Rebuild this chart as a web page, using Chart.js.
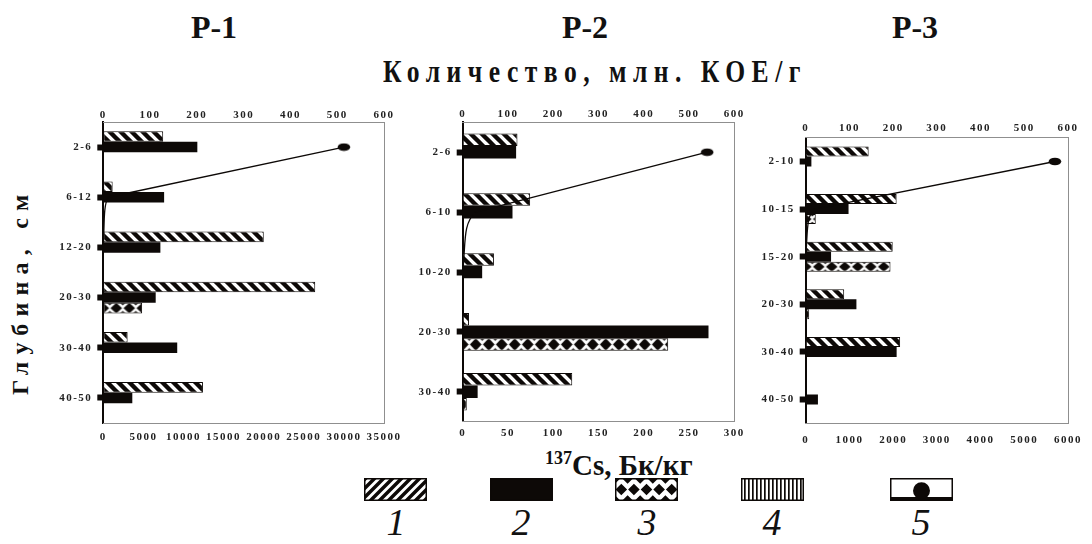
<!DOCTYPE html>
<html><head><meta charset="utf-8">
<script src="https://cdn.jsdelivr.net/npm/chart.js@4.4.1/dist/chart.umd.min.js"></script>
<style>
html,body{margin:0;padding:0;background:#fff;}
body{width:1092px;height:544px;position:relative;overflow:hidden;font-family:"Liberation Serif","Times New Roman",serif;color:#111;}
.abs{position:absolute;white-space:nowrap;line-height:1;}
.title{font-weight:bold;font-size:32px;transform:translateX(-50%);}
canvas.ch{position:absolute;}
.lg{position:absolute;}
.lgl{position:absolute;font-style:italic;font-size:38px;line-height:1;transform:translateX(-50%);}
</style></head><body>
<div class="abs title" style="left:214px;top:11px;">Р-1</div>
<div class="abs title" style="left:585px;top:11px;">Р-2</div>
<div class="abs title" style="left:915px;top:11px;">Р-3</div>
<div class="abs" id="xTitle" style="left:383px;top:55px;font-weight:bold;font-size:32px;transform-origin:0 0;">Количество, млн. КОЕ/г</div>
<div class="abs" id="yTitle" style="left:8px;top:395px;font-weight:bold;font-size:24px;transform-origin:0 0;">Глубина, см</div>
<div class="abs" id="csTitle" style="left:545px;top:451px;font-weight:bold;font-size:29px;"><span style="font-size:18px;position:relative;top:-11px;line-height:0;">137</span>Cs, Бк/кг</div>

<canvas class="ch" id="c1" width="370" height="365" style="left:40px;top:95px;"></canvas>
<canvas class="ch" id="c2" width="345" height="360" style="left:410px;top:95px;"></canvas>
<canvas class="ch" id="c3" width="332" height="350" style="left:760px;top:105px;"></canvas>

<canvas class="lg" id="lg1" width="63" height="23" style="left:364px;top:478px;"></canvas>
<canvas class="lg" id="lg2" width="63" height="23" style="left:490px;top:478px;"></canvas>
<canvas class="lg" id="lg3" width="63" height="23" style="left:615px;top:478px;"></canvas>
<canvas class="lg" id="lg4" width="63" height="23" style="left:741px;top:478px;"></canvas>
<canvas class="lg" id="lg5" width="63" height="23" style="left:890px;top:478px;"></canvas>
<div class="lgl" style="left:396px;top:503px;">1</div>
<div class="lgl" style="left:521px;top:503px;">2</div>
<div class="lgl" style="left:647px;top:503px;">3</div>
<div class="lgl" style="left:772px;top:503px;">4</div>
<div class="lgl" style="left:921px;top:503px;">5</div>

<script>
// ---------- DATA ----------
// Top axis: количество, млн. КОЕ/г (series 1-4); bottom axis: 137Cs, Бк/кг (series 5)
const countMax = 600;
const countStep = 100;

// Р-1
const p1Depth = ['2-6', '6-12', '12-20', '20-30', '30-40', '40-50'];
const p1S1 = [128, 20, 343, 453, 52, 213];
const p1S2 = [201, 130, 122, 112, 158, 62];
const p1S3 = [0, 0, 0, 83, 0, 0];
const p1S4 = [0, 0, 0, 0, 0, 0];
const p1Cs = [30000, 600, 0, 0, 0, 0];
const p1CsMax = 35000, p1CsStep = 5000;

// Р-2
const p2Depth = ['2-6', '6-10', '10-20', '20-30', '30-40'];
const p2S1 = [121, 149, 69, 14, 242];
const p2S2 = [118, 110, 43, 543, 33];
const p2S3 = [0, 0, 0, 454, 9];
const p2S4 = [0, 0, 0, 0, 0];
const p2Cs = [270, 14, 0, 0, 0];
const p2CsMax = 300, p2CsStep = 50;

// Р-3
const p3Depth = ['2-10', '10-15', '15-20', '20-30', '30-40', '40-50'];
const p3S1 = [144, 208, 199, 88, 216, 0];
const p3S2 = [13, 98, 58, 116, 208, 28];
const p3S3 = [0, 23, 194, 8, 0, 3];
const p3S4 = [0, 0, 0, 0, 0, 0];
const p3Cs = [5700, 200, 0, 0, 0, 0];
const p3CsMax = 6000, p3CsStep = 1000;

// ---------- STYLE HELPERS ----------
const INK = '#0d0907';
const FAM = '"Liberation Serif","Times New Roman",serif';
const tickFont = {family: FAM, size: 11, weight: 'bold'};
const LS = '1.5px';
const CAT_PCT = 0.63;

function tile(w, h, draw) {
  const c = document.createElement('canvas'); c.width = w; c.height = h;
  const g = c.getContext('2d');
  g.fillStyle = '#fff'; g.fillRect(0, 0, w, h);
  g.fillStyle = INK; g.strokeStyle = INK;
  draw(g, w, h);
  return c;
}
function hatchTile() {
  return tile(11, 11, (g) => {
    g.lineWidth = 4.4; g.beginPath();
    for (const o of [-11, 0, 11]) { g.moveTo(o - 2, -2); g.lineTo(o + 13, 13); }
    g.stroke();
  });
}
// row of black diamonds with white round gaps and small edge triangles
function diamondRowTile(h) {
  return tile(13, h, (g, w) => {
    const hw = w * 0.45, hh = h / 2;
    g.beginPath();
    for (const x of [0, w]) {
      g.moveTo(x, h / 2 - hh); g.lineTo(x + hw, h / 2); g.lineTo(x, h / 2 + hh); g.lineTo(x - hw, h / 2); g.closePath();
    }
    const tw = w * 0.22, td = h * 0.22;
    g.moveTo(w / 2 - tw, 0); g.lineTo(w / 2 + tw, 0); g.lineTo(w / 2, td); g.closePath();
    g.moveTo(w / 2 - tw, h); g.lineTo(w / 2 + tw, h); g.lineTo(w / 2, h - td); g.closePath();
    g.fill();
  });
}
function stripeTile() {
  return tile(4, 4, (g) => { g.fillRect(0, 0, 1.7, 4); });
}
const pctx = document.createElement('canvas').getContext('2d');
const hatchPat = pctx.createPattern(hatchTile(), 'repeat');
const stripePat = pctx.createPattern(stripeTile(), 'repeat');
const diamondDefault = pctx.createPattern(diamondRowTile(11), 'repeat');

// diamond pattern aligned to each bar's own position (slot 3 of the group)
function diamondFill(c) {
  try {
    if (c.type !== 'data') return diamondDefault;
    const ys = c.chart.scales && c.chart.scales.y;
    const area = c.chart.chartArea;
    if (!ys || !area || !(ys.height > 0)) return diamondDefault;
    const n = ys.getLabels().length;
    const band = ys.height / n;
    const bw = band * CAT_PCT / 3;
    const center = ys.getPixelForValue(c.dataIndex);
    if (!isFinite(bw) || bw < 2 || !isFinite(center)) return diamondDefault;
    const top = center + bw / 2;
    const th = Math.max(6, Math.round(bw));
    const pat = pctx.createPattern(diamondRowTile(th), 'repeat');
    pat.setTransform(new DOMMatrix().translate(area.left, top).scale(1, bw / th));
    return pat;
  } catch (e) {
    return diamondDefault;
  }
}

const marker = document.createElement('canvas');
marker.width = 14; marker.height = 9;
(function () {
  const g = marker.getContext('2d');
  g.fillStyle = INK; g.beginPath(); g.ellipse(7, 4.5, 6.3, 3.8, 0, 0, Math.PI * 2); g.fill();
})();

const framePlugin = {
  id: 'frame',
  beforeLayout(chart) { chart.ctx.letterSpacing = LS; },
  beforeDraw(chart) { chart.ctx.letterSpacing = LS; },
  beforeDatasetsDraw(chart) {
    const {ctx, chartArea: a} = chart;
    ctx.save(); ctx.strokeStyle = '#8f8f8f'; ctx.lineWidth = 1;
    ctx.beginPath(); ctx.moveTo(Math.round(a.right) + 0.5, a.top); ctx.lineTo(Math.round(a.right) + 0.5, a.bottom); ctx.stroke();
    ctx.restore();
  }
};

function makePanel(id, p) {
  const barCommon = {categoryPercentage: CAT_PCT, barPercentage: 1, xAxisID: 'x', yAxisID: 'y', order: 1, borderSkipped: false};
  new Chart(document.getElementById(id), {
    type: 'bar',
    data: {
      labels: p.depth,
      datasets: [
        {type: 'line', label: '5', data: p.cs.map((v, i) => i < 2 ? v : null), xAxisID: 'x2', yAxisID: 'y',
         borderColor: INK, borderWidth: 1.3, tension: 0, pointStyle: marker,
         pointRadius: p.cs.map((v, i) => i === 0 ? 4 : 0), clip: false, order: 0},
        {type: 'line', label: '5s', data: p.cs, xAxisID: 'x2', yAxisID: 'y',
         borderColor: INK, borderWidth: 1.3, tension: 0.5, pointRadius: 0, clip: false, order: 0,
         segment: {borderColor: c => c.p0DataIndex === 0 ? 'rgba(0,0,0,0)' : INK}},
        Object.assign({label: '1', data: p.s1, stack: 'a', backgroundColor: hatchPat, borderColor: INK, borderWidth: 1}, barCommon),
        Object.assign({label: '2', data: p.s2, stack: 'b', backgroundColor: INK, borderWidth: 0}, barCommon),
        Object.assign({label: '3', data: p.s3, stack: 'c', backgroundColor: diamondFill, borderColor: INK, borderWidth: 1}, barCommon),
        Object.assign({label: '4', data: p.s4, stack: 'c', backgroundColor: stripePat, borderColor: INK, borderWidth: 1}, barCommon)
      ]
    },
    options: {
      indexAxis: 'y', responsive: false, animation: false, events: [],
      layout: {padding: {left: 0, top: 0, right: p.padRight, bottom: 0}},
      plugins: {legend: {display: false}, tooltip: {enabled: false}},
      scales: {
        y: {type: 'category', position: 'left', offset: true,
            grid: {display: true, drawOnChartArea: false, drawTicks: true, tickLength: 6, tickWidth: 6, tickColor: INK, color: INK, offset: false},
            border: {display: true, color: INK, width: 2, dash: [6, 3]},
            ticks: {font: tickFont, color: '#222', padding: 5, autoSkip: false},
            afterFit: s => { s.width = p.yWidth; }},
        x: {type: 'linear', position: 'top', min: 0, max: countMax,
            ticks: {stepSize: countStep, font: tickFont, color: '#222', padding: p.topPad, autoSkip: false, maxRotation: 0, minRotation: 0, callback: v => String(v)},
            grid: {display: false, drawTicks: false},
            border: {display: true, color: '#8f8f8f', width: 1},
            afterFit: s => { s.height = p.topH; }},
        x2: {type: 'linear', position: 'bottom', min: 0, max: p.csMax,
            ticks: {stepSize: p.csStep, font: tickFont, color: '#222', padding: p.botPad, autoSkip: false, maxRotation: 0, minRotation: 0, callback: v => String(v)},
            grid: {display: false, drawTicks: false},
            border: {display: true, color: '#8f8f8f', width: 1},
            afterFit: s => { s.height = p.botH; }}
      }
    },
    plugins: [framePlugin]
  });
}

makePanel('c1', {depth: p1Depth, s1: p1S1, s2: p1S2, s3: p1S3, s4: p1S4, cs: p1Cs, csMax: p1CsMax, csStep: p1CsStep,
  yWidth: 63.3, topH: 27, botH: 37, padRight: 26, topPad: 0, botPad: 8});
makePanel('c2', {depth: p2Depth, s1: p2S1, s2: p2S2, s3: p2S3, s4: p2S4, cs: p2Cs, csMax: p2CsMax, csStep: p2CsStep,
  yWidth: 52.7, topH: 27.3, botH: 33.3, padRight: 20.7, topPad: 2, botPad: 5});
makePanel('c3', {depth: p3Depth, s1: p3S1, s2: p3S2, s3: p3S3, s4: p3S4, cs: p3Cs, csMax: p3CsMax, csStep: p3CsStep,
  yWidth: 45.7, topH: 32.7, botH: 31.7, padRight: 12, topPad: 3, botPad: 10});

// ---------- legend swatches ----------
function swatch(id, draw) {
  const c = document.getElementById(id), g = c.getContext('2d');
  const w = c.width, h = c.height;
  g.fillStyle = '#fff'; g.fillRect(0, 0, w, h);
  g.save(); g.beginPath(); g.rect(0, 0, w, h); g.clip();
  g.fillStyle = INK; g.strokeStyle = INK;
  draw(g, w, h);
  g.restore();
  g.strokeStyle = INK; g.lineWidth = 1.5; g.strokeRect(0.75, 0.75, w - 1.5, h - 1.5);
}
swatch('lg1', (g, w, h) => {
  g.lineWidth = 3.5; g.beginPath();
  for (let x = -h; x < w + h; x += 9) { g.moveTo(x, h + 2); g.lineTo(x + h + 4, -2); }
  g.stroke();
});
swatch('lg2', (g, w, h) => { g.fillRect(0, 0, w, h); });
swatch('lg3', (g, w, h) => {
  const P = w / 5, r = Math.min(P / 2, h / 2) * 0.92;
  g.beginPath();
  const dia = (x, y) => { g.moveTo(x, y - r); g.lineTo(x + r, y); g.lineTo(x, y + r); g.lineTo(x - r, y); g.closePath(); };
  for (let k = 0; k < 5; k++) dia(P / 2 + k * P, h / 2);
  for (let k = 0; k <= 5; k++) { dia(k * P, 0); dia(k * P, h); }
  g.fill();
});
swatch('lg4', (g, w, h) => { for (let x = 3; x < w - 2; x += 4) g.fillRect(x, 0, 1.7, h); });
swatch('lg5', (g, w, h) => {
  g.fillRect(0, h - 4, w, 4);
  g.beginPath(); g.arc(w / 2, h * 0.55, 8.5, 0, Math.PI * 2); g.fill();
});

// ---------- fit letter-spaced titles ----------
function fitSpacing(el, target, sx, extra) {
  el.style.letterSpacing = '0px';
  const w0 = el.offsetWidth;
  const n = el.textContent.length;
  const ls = (target / sx - w0) / (n - 1);
  el.style.letterSpacing = ls + 'px';
  el.style.transform = (extra || '') + ' scaleX(' + sx + ')';
}
fitSpacing(document.getElementById('xTitle'), 417, 0.8, '');
fitSpacing(document.getElementById('yTitle'), 200, 1, 'rotate(-90deg)');
</script>
</body></html>
